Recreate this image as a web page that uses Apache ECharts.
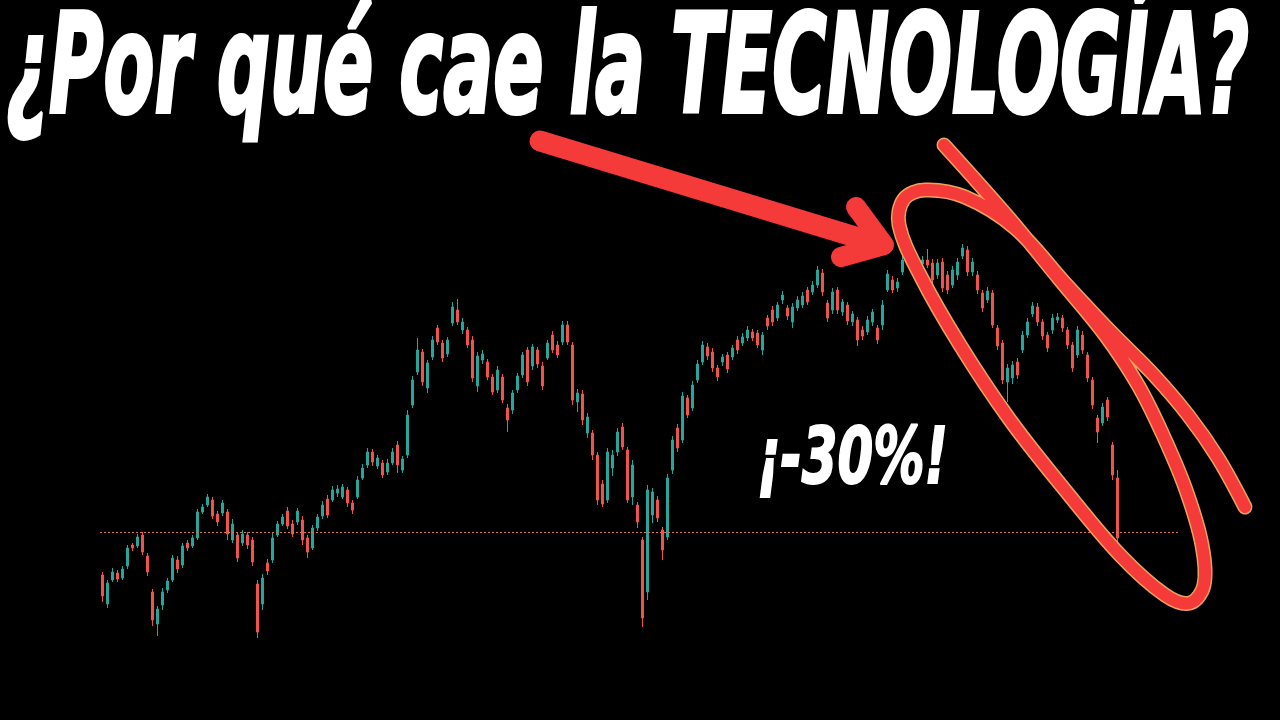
<!DOCTYPE html>
<html>
<head>
<meta charset="utf-8">
<script src="https://cdn.jsdelivr.net/npm/echarts@6/dist/echarts.min.js"></script>
<style>
html,body{margin:0;padding:0;background:#000;}
#chart{width:1280px;height:720px;}
</style>
</head>
<body>
<div id="chart"></div>
<script>
// Candles: [open, close, lowest, highest] (price units of the picture)
const ohlc = [
[145,124,118,148],[116,137,112,140],[140,148,138,152],[147,141,138,150],[142,151,140,154],
[154,172,151,175],[175,172,169,177],[174,183,172,186],[185,168,165,188],[164,148,144,167],
[128,100,94,131],[96,111,84,114],[115,128,110,132],[130,139,127,142],[140,162,138,165],
[160,151,147,164],[155,174,152,177],[177,172,169,180],[174,182,172,185],[182,208,180,211],
[208,213,206,216],[215,223,213,226],[220,204,201,223],[206,198,194,209],[207,217,204,220],
[208,186,180,211],[180,196,177,201],[185,162,158,188],[177,186,174,190],[185,175,171,188],
[180,158,154,183],[136,88,82,140],[116,142,110,146],[157,149,145,161],[160,182,157,187],
[185,196,183,199],[196,203,194,206],[209,194,191,213],[196,186,183,200],[198,209,195,212],
[200,180,175,204],[182,168,162,185],[172,192,170,195],[192,203,189,206],[204,215,201,219],
[221,205,202,225],[220,230,218,234],[227,231,223,235],[223,233,221,236],[230,217,213,233],
[217,210,206,220],[223,240,221,244],[242,252,240,256],[255,268,252,272],[268,258,254,271],
[254,262,251,265],[257,245,242,260],[248,257,245,261],[257,268,255,272],[275,255,247,279],
[250,261,247,264],[265,305,262,310],[315,340,312,344],[348,370,345,382],[368,338,334,371],
[332,357,327,360],[363,380,360,384],[392,378,375,395],[377,362,358,380],[366,380,363,383],
[397,413,394,418],[410,398,395,421],[390,398,386,402],[390,375,372,393],[380,342,338,384],
[334,364,328,368],[360,366,356,370],[358,343,340,361],[343,328,325,346],[330,350,327,354],
[343,320,317,346],[312,300,288,316],[310,327,306,330],[330,344,327,347],[345,365,342,368],
[370,338,334,373],[354,373,350,376],[370,356,352,373],[354,334,330,358],[362,377,360,380],
[385,370,367,389],[375,365,362,379],[378,395,375,399],[395,378,375,399],[375,320,315,378],
[318,327,308,331],[326,300,295,330],[287,303,282,307],[287,265,260,290],[265,220,215,268],
[236,216,213,240],[220,268,217,272],[252,265,244,270],[268,288,264,292],[293,273,270,297],
[270,220,217,273],[223,255,215,260],[215,198,192,218],[180,102,93,183],[128,230,120,235],
[205,228,197,232],[220,202,198,224],[190,170,160,193],[183,242,180,246],[250,280,246,284],
[292,272,268,296],[280,324,277,328],[322,305,302,325],[312,335,309,339],[340,356,337,360],
[358,375,355,379],[373,364,360,377],[368,352,348,372],[352,343,339,355],[358,363,354,366],
[365,351,347,368],[363,372,360,375],[380,370,366,384],[377,383,374,387],[382,390,379,394],
[388,382,379,391],[387,375,372,390],[370,385,365,388],[402,394,390,405],[410,398,394,414],
[402,415,399,418],[420,425,416,429],[412,404,400,415],[398,413,392,417],[412,420,409,424],
[415,424,412,428],[430,418,415,433],[428,435,425,439],[435,450,432,454],[447,428,424,451],
[417,402,398,420],[410,428,406,432],[430,410,406,433],[408,418,404,421],[415,399,395,418],
[398,406,394,409],[400,380,374,403],[390,384,380,394],[388,400,385,404],[398,408,394,411],
[392,380,376,395],[395,415,390,420],[430,446,428,450],[440,430,427,444],[432,438,428,442],
[448,460,445,464],[458,462,454,468],[460,458,454,465],[462,454,450,466],[456,460,453,464],
[460,455,452,471],[457,440,436,461],[445,457,441,461],[458,432,428,462],[445,430,426,449],
[435,450,432,454],[445,458,440,462],[464,472,461,476],[470,448,444,474],[448,458,444,462],
[445,430,426,449],[427,412,408,430],[420,429,417,433],[427,395,392,430],[392,374,370,395],
[377,340,336,380],[338,352,318,356],[342,355,336,359],[358,345,341,362],[370,385,367,389],
[385,398,382,402],[406,414,403,418],[413,398,394,417],[398,384,380,401],[385,372,368,388],
[390,402,386,406],[400,403,397,407],[402,392,388,405],[390,375,371,393],[375,352,348,378],
[365,390,362,394],[385,370,366,389],[365,342,338,368],[340,315,311,343],[302,288,277,305],
[297,313,294,317],[320,303,299,323],[275,245,240,278],[242,182,175,250]
];
const emptySlots = 12;               // blank space to the right of the last candle
const supportLevel = 188;            // dotted horizontal line
const titleText = '¿Por qué cae la TECNOLOGÍA?';
const dropText = '¡-30%!';

const categories = [];
for (let i = 0; i < ohlc.length + emptySlots; i++) categories.push(String(i));

function measure(text, font) {
  const c = document.createElement('canvas').getContext('2d');
  c.font = font;
  return c.measureText(text).width;
}
const FAM = '"DejaVu Sans"';
const titleSize = 137, dropSize = 78;
const titleW = measure(titleText, 'italic bold ' + titleSize + 'px ' + FAM);
const dropW = measure(dropText, 'italic bold ' + dropSize + 'px ' + FAM);

const RED = '#f43b3a', EDGE = '#eda25a';
const loop = [[944,145],[980,185],[1015,225],[1060,280],[1105,335],[1138,385],[1163,435],[1186,490],
  [1202,545],[1204,585],[1190,603],[1165,595],[1120,555],[1065,490],[1010,420],[960,345],[920,275],
  [899,225],[904,199],[925,190],[965,197],[1015,228],[1065,283],[1112,333],[1152,373],[1188,415],
  [1218,458],[1245,507]];

const chart = echarts.init(document.getElementById('chart'));
chart.setOption({
  backgroundColor: '#000',
  animation: false,
  grid: { left: 100, right: 100, top: 0, bottom: 0 },
  xAxis: { type: 'category', data: categories, show: false, boundaryGap: true },
  yAxis: { type: 'value', min: 0, max: 720, show: false, splitLine: { show: false } },
  series: [{
    type: 'candlestick',
    data: ohlc,
    barWidth: 3,
    itemStyle: { color: '#26a69a', color0: '#ef5350', borderColor: '#26a69a', borderColor0: '#ef5350', borderWidth: 1 },
    markLine: {
      silent: true, symbol: 'none', label: { show: false },
      lineStyle: { color: '#d9774a', type: [2, 2], width: 1 },
      data: [{ yAxis: supportLevel }]
    }
  }],
  graphic: [
    { type: 'polyline', z: 100, shape: { points: [[540,141],[872,242]] },
      style: { stroke: RED, lineWidth: 21, lineCap: 'round', fill: null } },
    { type: 'polyline', z: 100, shape: { points: [[856,207],[884,245],[841,257]] },
      style: { stroke: RED, lineWidth: 20, lineCap: 'round', lineJoin: 'round', fill: null } },
    { type: 'polyline', z: 100, shape: { points: loop, smooth: 0.35 },
      style: { stroke: EDGE, lineWidth: 15, lineCap: 'round', lineJoin: 'round', fill: null } },
    { type: 'polyline', z: 101, shape: { points: loop, smooth: 0.35 },
      style: { stroke: RED, lineWidth: 12, lineCap: 'round', lineJoin: 'round', fill: null } },
    { type: 'text', z: 110, x: 6, y: 76, scaleX: 1243 / titleW,
      style: { text: titleText, fill: '#fff', stroke: '#fff', lineWidth: 4,
        fontSize: titleSize, fontFamily: 'DejaVu Sans', fontWeight: 'bold', fontStyle: 'italic',
        align: 'left', verticalAlign: 'middle' } },
    { type: 'text', z: 110, x: 757, y: 463, scaleX: 191 / dropW,
      style: { text: dropText, fill: '#fff', stroke: '#fff', lineWidth: 2,
        fontSize: dropSize, fontFamily: 'DejaVu Sans', fontWeight: 'bold', fontStyle: 'italic',
        align: 'left', verticalAlign: 'middle' } }
  ]
});
</script>
</body>
</html>
